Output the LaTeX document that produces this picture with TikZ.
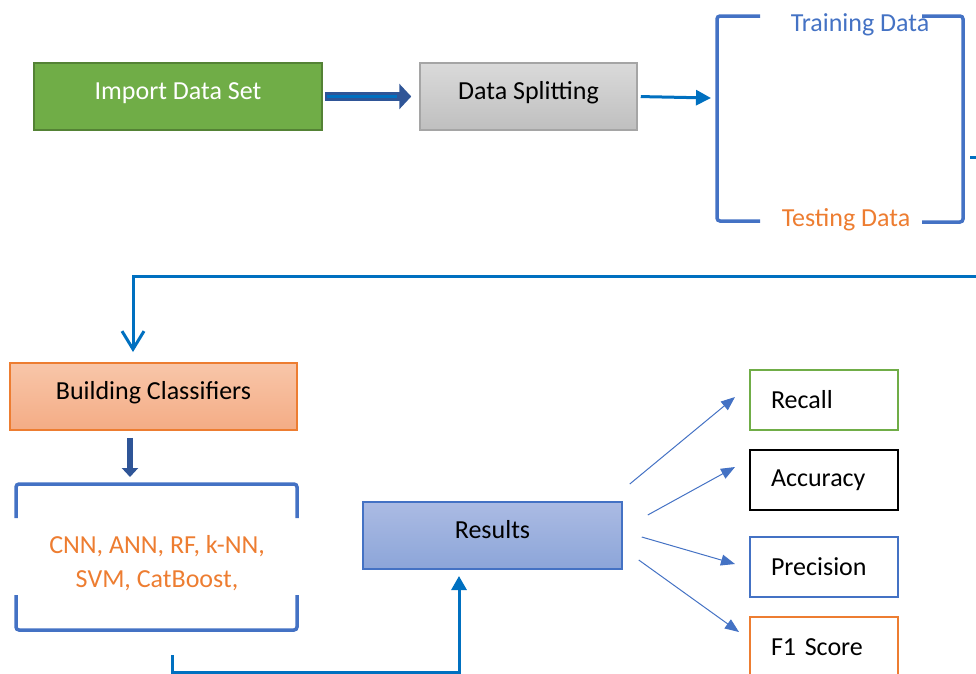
\documentclass[tikz,border=0pt]{standalone}
\usepackage{fontspec}
\setmainfont{Carlito}
\usetikzlibrary{arrows.meta}

\definecolor{igreen}{HTML}{70AD47}
\definecolor{dgreen}{HTML}{548235}
\definecolor{gtop}{HTML}{DADADA}
\definecolor{gbot}{HTML}{BFBFBF}
\definecolor{gline}{HTML}{A5A5A5}
\definecolor{otop}{HTML}{F8C6A9}
\definecolor{obot}{HTML}{F4AC85}
\definecolor{orng}{HTML}{ED7D31}
\definecolor{btop}{HTML}{ABBBE3}
\definecolor{bbot}{HTML}{8CA5D9}
\definecolor{bblue}{HTML}{4472C4}
\definecolor{cblue}{HTML}{0070C0}
\definecolor{navy}{HTML}{2F5597}

\newcommand\bigtxt{\fontsize{26pt}{34pt}\selectfont}

\begin{document}
\begin{tikzpicture}[x=1pt,y=-1pt,font=\bigtxt,
    block/.style={draw,line width=1.5pt,minimum height=67pt,text height=18pt,text depth=12pt},
    metric/.style={draw,line width=2pt,minimum width=148pt,minimum height=60pt,
                   text width=106pt,inner xsep=21pt,align=left},
    conn/.style={draw=cblue,line width=3pt},
    brk/.style={draw=bblue,line width=3.5pt,rounded corners=3pt},
    thin/.style={draw=bblue,line width=1pt,-{Triangle[length=14pt,width=11pt]}}]
    \useasboundingbox (0,0) rectangle (976,673);

    % top row
    \node[block,fill=igreen,draw=dgreen,text=white,minimum width=288pt] (import) at (178,96.5) {Import Data Set};
    \node[block,top color=gtop,bottom color=gbot,draw=gline,minimum width=217pt] (split) at (528.5,96.5) {Data Splitting};
    \draw[brk] (760,16) -- (717,16) -- (717,221) -- (760,221);
    \draw[brk] (922,16) -- (963,16) -- (963,222) -- (922,222);
    \node[text=bblue] (train) at (860,25) {Training Data};
    \node[text=orng] (test) at (846,220) {Testing Data};

    % classifiers
    \node[block,top color=otop,bottom color=obot,draw=orng,minimum width=287pt] (build) at (153.5,396.5) {Building Classifiers};
    \draw[brk] (16,518) -- (16,484) -- (297,484) -- (297,518);
    \draw[brk] (16,595) -- (16,630) -- (297,630) -- (297,595);
    \node[text=orng,align=center] (algos) at (157,563) {CNN, ANN, RF, k-NN,\\SVM, CatBoost,};
    \node[block,top color=btop,bottom color=bbot,draw=bblue,minimum width=259pt] (res) at (492.5,535.5) {Results};

    % metrics
    \foreach \n/\t/\c/\y in {recall/Recall/igreen/400,acc/Accuracy/black/480,prec/Precision/bblue/567,fone/F1 Score/orng/647}
        \node[metric,draw=\c] (\n) at (824,\y) {\t};

    \coordinate (brk-in) at (711,98);
    \coordinate (brk-out) at (970,157);
    \coordinate (far) at (995,276);
    \coordinate (bc-in) at (133,352);
    \coordinate (cls-top) at (130,477);
    \coordinate (cls-out) at (172,655);
    \coordinate (low) at (300,672);
    \coordinate (res-in) at (459,576);

    \draw[navy,line width=9pt,shorten <=2pt,shorten >=8pt,-{Triangle[length=12pt,width=25pt]}] (import.east) -- (split.west);
    \draw[cblue,line width=3pt,shorten <=4pt,shorten >=22pt] (import.east) -- (split.west);
    \draw[conn,shorten <=3pt,-{Triangle[length=15pt,width=15pt]}] (split.east) -- (brk-in);
    \draw[conn,-{Straight Barb[length=18pt,width=22pt]}] (brk-out) -- (brk-out -| far) -- (far) -| (bc-in);
    \draw[navy,line width=6pt,shorten <=7pt,-{Triangle[length=9pt,width=16pt]}] (cls-top |- build.south) -- (cls-top);
    \draw[conn,-{Triangle[length=14pt,width=15pt]}] (cls-out) |- (low) -| (res-in);

    \foreach \sx/\sy/\n/\dx/\dy in {7/-51.5/recall/-14/-3,25/-20.5/acc/-14/-13,19/1.5/prec/-14/-3,16/24.5/fone/-10/-15}
        \draw[thin] ([shift={(\sx,\sy)}]res.east) -- ([shift={(\dx,\dy)}]\n.west);
\end{tikzpicture}
\end{document}
